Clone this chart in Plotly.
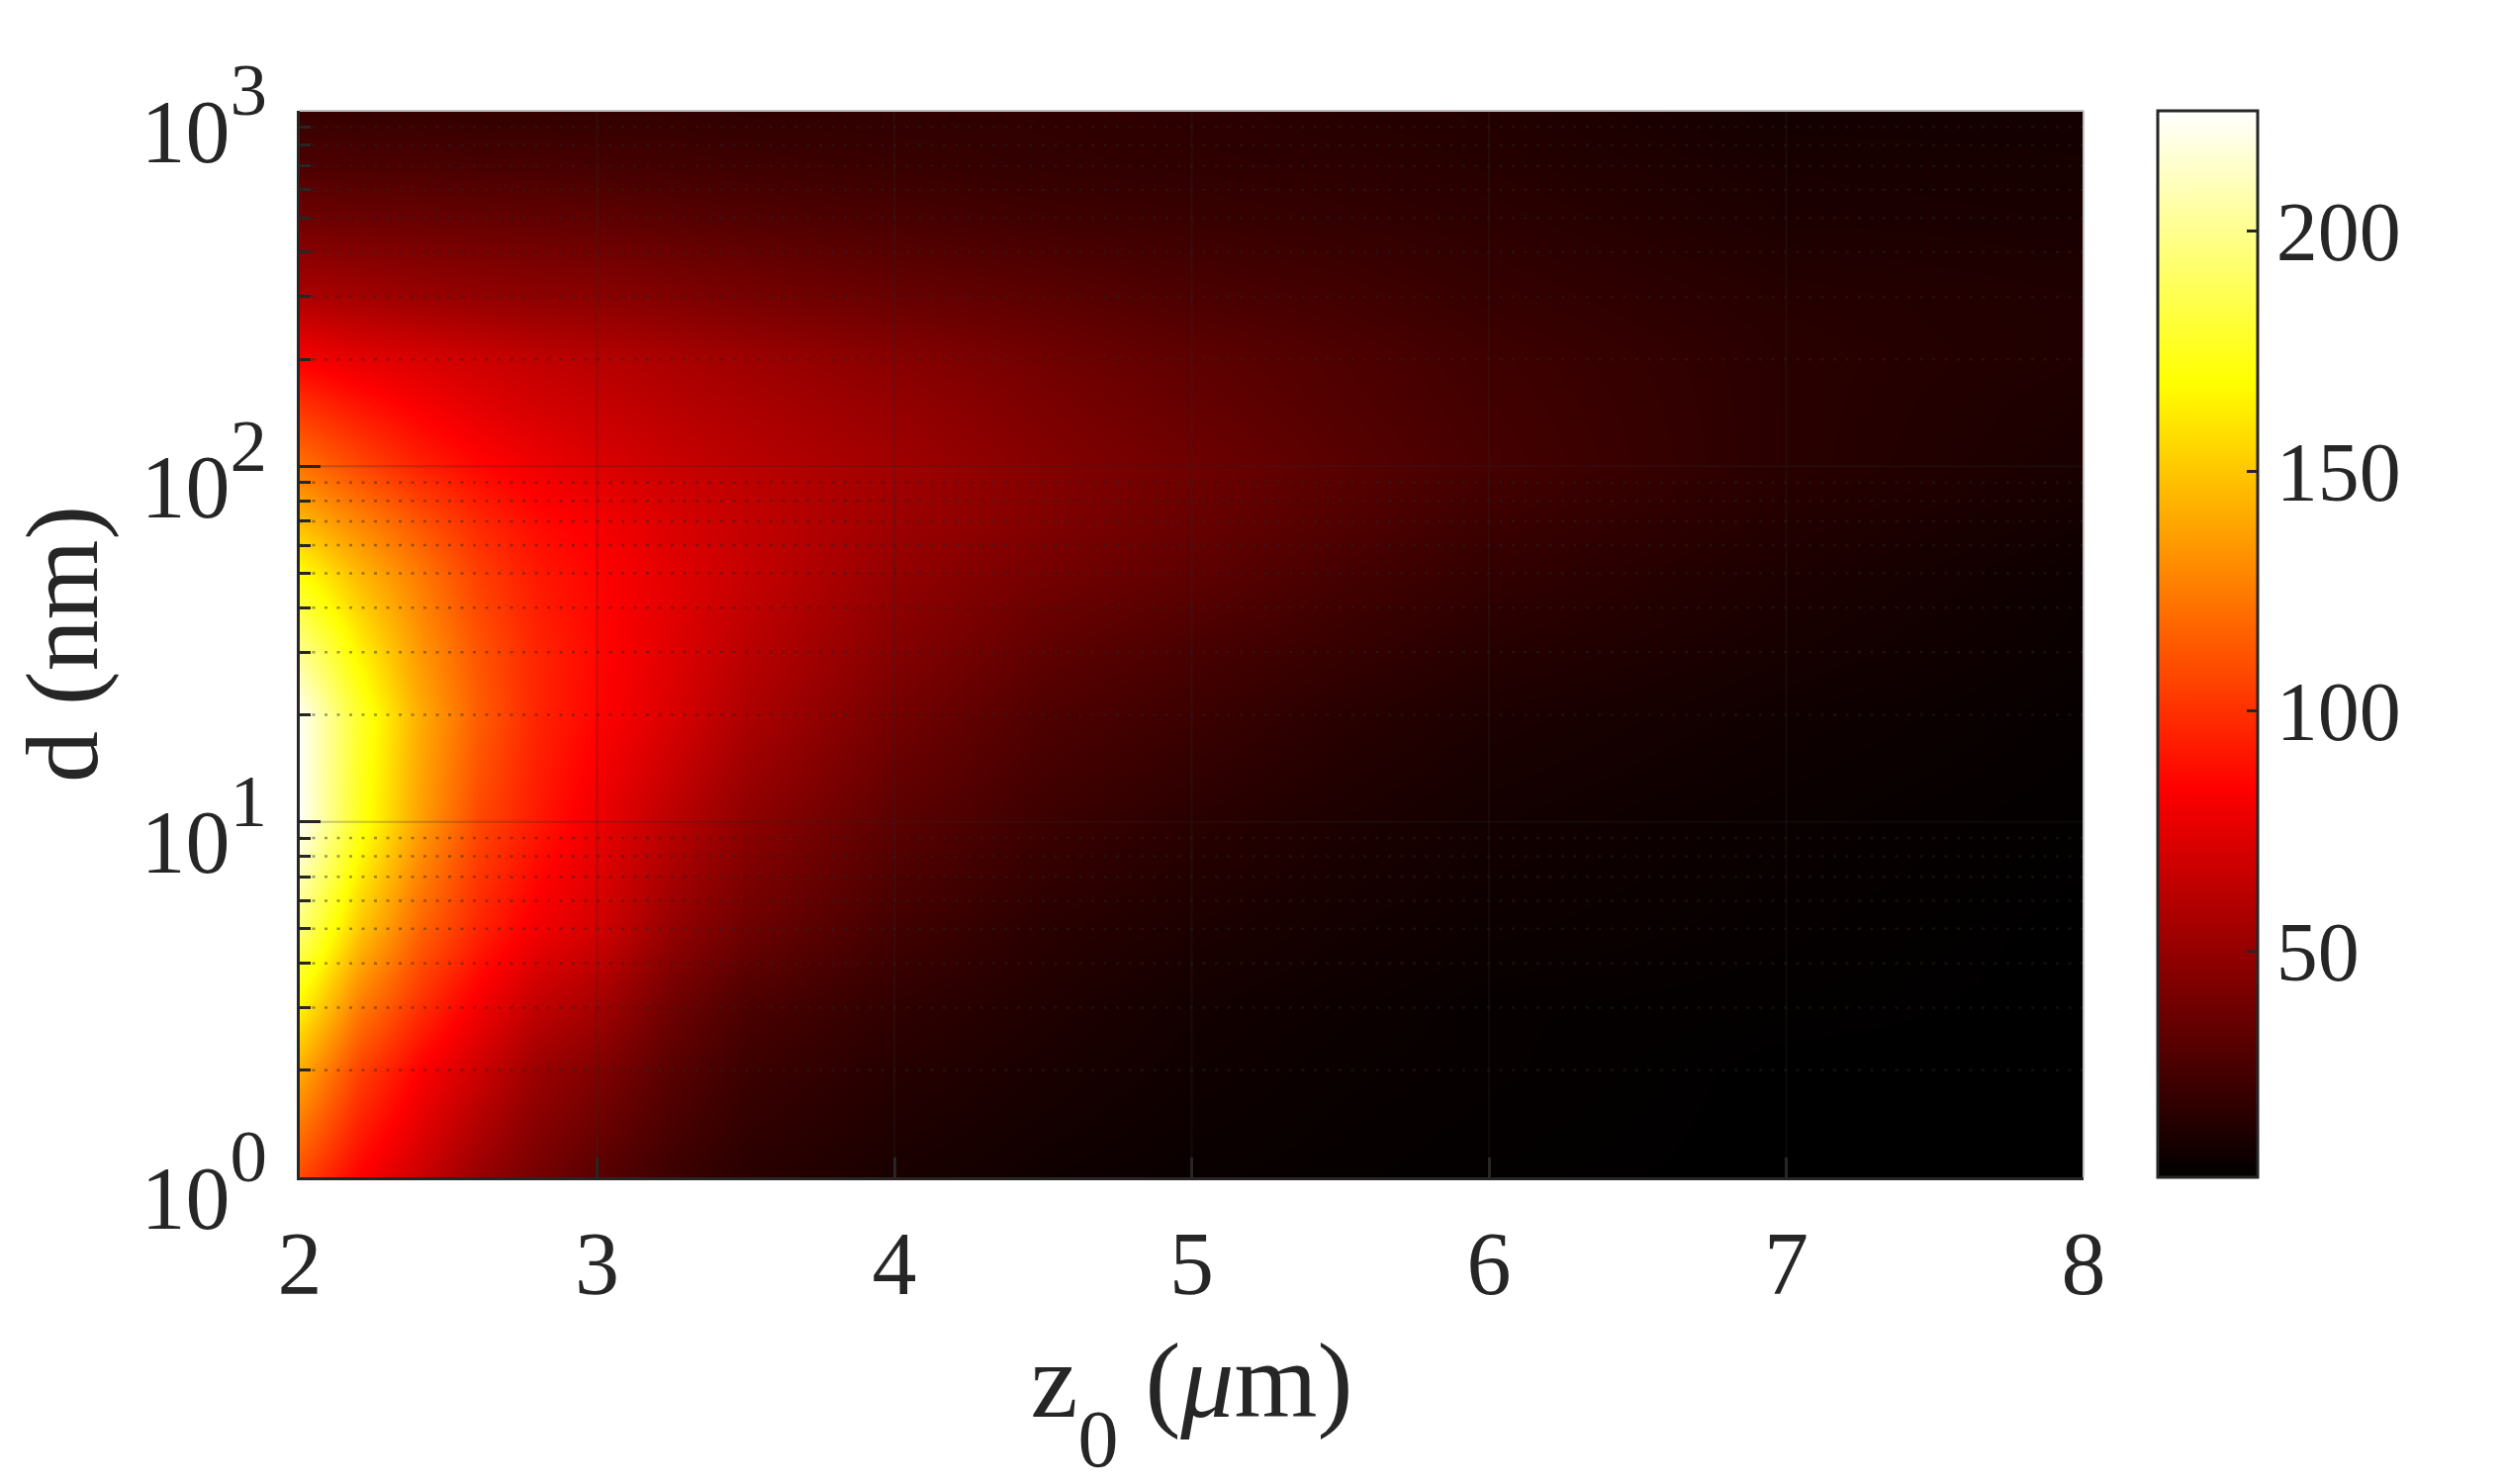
import plotly.graph_objects as go

z0_um = [2, 2.2, 2.4, 2.6, 2.8, 3, 3.25, 3.5, 4, 4.5, 5, 5.5, 6, 7, 8]
d_nm = [1, 2, 3, 5, 10, 20, 30, 50, 70, 100, 150, 200, 300, 500, 700, 1000]
values = [
    [108, 84, 68, 51, 40, 31, 22, 16, 11, 8, 6, 5, 4, 3, 3],
    [141, 106, 84, 68, 52, 44, 31, 22, 15, 11, 8, 6, 5, 3, 3],
    [165, 125, 100, 80, 64, 55, 38, 27, 18, 13, 9, 7, 5, 4, 3],
    [195, 150, 118, 96, 80, 70, 50, 38, 24, 16, 12, 9, 7, 5, 3],
    [223, 175, 138, 108, 92, 78, 62, 48, 32, 22, 16, 12, 9, 6, 4],
    [222, 178, 142, 115, 96, 85, 72, 58, 40, 28, 22, 16, 12, 8, 5],
    [200, 165, 135, 112, 96, 86, 74, 62, 45, 33, 26, 20, 15, 10, 6],
    [170, 145, 125, 105, 92, 85, 75, 66, 50, 40, 33, 25, 19, 12, 7],
    [145, 128, 112, 97, 87, 81, 72, 65, 53, 44, 36, 29, 22, 14, 9],
    [122, 108, 95, 86, 79, 73, 67, 62, 54, 45, 38, 31, 25, 16, 11],
    [100, 90, 82, 75, 70, 66, 61, 57, 50, 42, 35, 29, 24, 16, 12],
    [82, 76, 72, 68, 64, 61, 57, 53, 46, 39, 33, 28, 23, 16, 13],
    [58, 55, 52, 50, 48, 47, 44, 41, 36, 32, 27, 24, 20, 15, 13],
    [38, 37, 36, 35, 34, 33, 31, 29, 26, 23, 21, 19, 17, 12, 11],
    [28, 27, 27, 26, 26, 25, 24, 23, 21, 19, 18, 17, 15, 11, 10],
    [20, 20, 20, 19, 19, 19, 19, 18, 18, 18, 17, 15, 14, 9, 9],
]
x_ticks = [2, 3, 4, 5, 6, 7, 8]
y_ticks = [1, 10, 100, 1000]
y_exponents = ["0", "1", "2", "3"]
y_minor = [m * 10 ** e for e in range(3) for m in range(2, 10)]
cb_ticks = [50, 100, 150, 200]

INK = "#262626"
FONT = "Liberation Serif"
hot = [[0, "rgb(0,0,0)"], [0.365, "rgb(255,0,0)"], [0.746, "rgb(255,255,0)"], [1, "rgb(255,255,255)"]]

fig = go.Figure(go.Heatmap(
    x=z0_um, y=d_nm, z=values, zmin=3, zmax=225, zsmooth="best", colorscale=hot,
    colorbar=dict(
        x=(2181 - 303) / 1803, xanchor="left", xpad=0,
        y=1, yanchor="top", ypad=0,
        lenmode="fraction", len=1, thicknessmode="pixels", thickness=101,
        outlinewidth=3, outlinecolor=INK, tickvals=cb_ticks, ticks="inside", ticklen=12,
        tickwidth=3, tickcolor=INK, tickfont=dict(family=FONT, size=84, color=INK),
        tickprefix="\u00a0\u2009",
    ),
))

shapes = []
for v in x_ticks[1:-1]:
    shapes.append(dict(type="line", xref="x", yref="paper", x0=v, x1=v, y0=0, y1=1,
                       line=dict(color="rgba(38,38,38,0.25)", width=2)))
for v in y_ticks[1:-1]:
    shapes.append(dict(type="line", xref="paper", yref="y", x0=0, x1=1, y0=v, y1=v,
                       line=dict(color="rgba(38,38,38,0.25)", width=2)))
for v in y_minor:
    shapes.append(dict(type="line", xref="paper", yref="y", x0=0, x1=1, y0=v, y1=v,
                       line=dict(color="rgba(38,38,38,0.45)", width=2.5, dash="3px,9.5px")))
shapes.append(dict(type="line", xref="paper", yref="paper", x0=0, x1=1, y0=1, y1=1,
                   line=dict(color="#bfbfbf", width=2)))
shapes.append(dict(type="line", xref="paper", yref="paper", x0=1, x1=1, y0=0, y1=1,
                   line=dict(color="#bfbfbf", width=2)))

fig.update_layout(
    width=2532, height=1500, autosize=False,
    margin=dict(l=303, r=426, t=112, b=310),
    paper_bgcolor="white", plot_bgcolor="white",
    font=dict(family=FONT, color=INK),
    shapes=shapes,
    xaxis=dict(
        range=[2, 8], tickvals=x_ticks, ticks="inside", ticklen=20, tickwidth=3, tickcolor=INK,
        showline=True, linecolor=INK, linewidth=3, showgrid=False, zeroline=False,
        tickfont=dict(family=FONT, size=90, color=INK), ticklabelstandoff=7,
        title=dict(text="z<sub><sub><sub><span style='font-size:82px'>0</span></sub></sub></sub> (<i>μ</i>m)",
                   font=dict(family=FONT, size=108, color=INK), standoff=40),
    ),
    yaxis=dict(
        type="log", range=[0, 3], tickvals=y_ticks,
        ticktext=[f"10<span style='font-size:112px'><sup><span style='font-size:75px'>{e}</span></sup></span>" for e in y_exponents],
        ticks="inside", ticklen=21, tickwidth=3, tickcolor=INK,
        showline=True, linecolor=INK, linewidth=3, showgrid=False, zeroline=False,
        tickfont=dict(family=FONT, size=90, color=INK), ticklabelshift=20, ticklabelstandoff=12,
        minor=dict(tickvals=y_minor, ticks="inside", ticklen=11, tickwidth=3, tickcolor=INK, showgrid=False),
        title=dict(text="d (nm)", font=dict(family=FONT, size=104, color=INK), standoff=10),
    ),
)
fig.write_html("out.html", config={"displayModeBar": False}, post_script="document.body.style.margin='0';")
